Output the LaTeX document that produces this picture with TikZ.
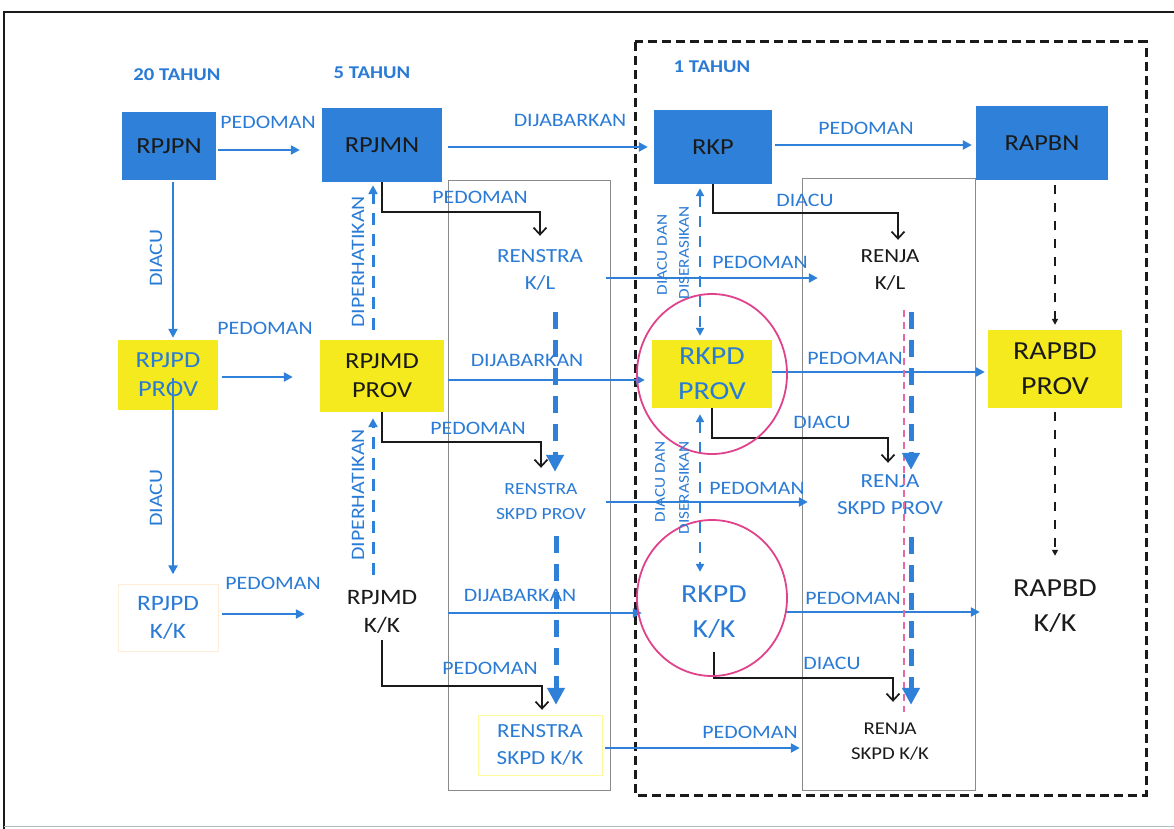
\documentclass[tikz,border=0pt]{standalone}
\usepackage{fontspec}
\setmainfont{Carlito}[FakeStretch=1.15]
\usetikzlibrary{arrows.meta,calc,positioning}
\definecolor{PlanBlue}{HTML}{2F80D8}
\definecolor{PlanText}{HTML}{2A7BD6}
\definecolor{PlanYellow}{HTML}{F4EA1E}
\definecolor{PlanInk}{HTML}{1A1A1A}
\definecolor{PlanRing}{HTML}{E0438C}
\definecolor{PlanGrid}{HTML}{8A8A8A}
\tikzset{
  every node/.style={font=\fontsize{19}{22}\selectfont, text=PlanInk, align=center, inner sep=0pt},
  bluebox/.style={fill=PlanBlue, font=\fontsize{23}{29}\selectfont},
  yellowbox/.style={fill=PlanYellow, font=\fontsize{23}{29}\selectfont},
  bigtext/.style={font=\fontsize{26}{35}\selectfont},
  midtext/.style={font=\fontsize{22}{28}\selectfont},
  plantext/.style={font=\fontsize{20}{27}\selectfont},
  tag/.style={text=PlanText, font=\fontsize{19}{22}\selectfont},
  smalltag/.style={text=PlanText, font=\fontsize{15}{17}\selectfont, rotate=90},
  heading/.style={text=PlanText, font=\fontsize{18}{22}\selectfont\bfseries},
  flow/.style={-{Triangle[length=9pt,width=9pt]}, draw=PlanBlue, line width=2.6pt},
  elbow/.style={-{Straight Barb[length=7pt,width=13pt]}, draw=PlanInk, line width=1.7pt},
  linked/.style={-{Triangle[length=6pt,width=6pt]}, draw=PlanInk, line width=1.6pt, dash pattern=on 9pt off 9pt},
  noted/.style={-{Triangle[length=9pt,width=9pt]}, draw=PlanBlue, line width=3pt, dash pattern=on 12pt off 9pt},
  synced/.style={{Triangle[length=8pt,width=8pt]}-{Triangle[length=8pt,width=8pt]}, draw=PlanBlue, line width=2.4pt, dash pattern=on 11pt off 9pt},
  cascade/.style={-{Triangle[length=17pt,width=17pt]}, draw=PlanBlue, line width=5pt, dash pattern=on 17pt off 11pt},
  ring/.style={draw=PlanRing, line width=1.8pt},
  column/.style={draw=PlanGrid, line width=0.7pt},
}
\begin{document}
\begin{tikzpicture}[x=1pt,y=-1pt]
  \useasboundingbox (0,0) rectangle (1174,829);
  \fill[white] (0,0) rectangle (1174,829);
  % Frame and groupings
  \draw[PlanInk, line width=1.8pt] (4,829) -- (4,12) -- (1174,12);
  \draw[PlanGrid!60, line width=1pt] (4,826) -- (1174,826);
  \draw[column] (448,180) rectangle (610,790);
  \draw[column] (802,178) rectangle (975,790);
  \draw[PlanInk, line width=3pt, dash pattern=on 9pt off 5pt] (635,42) rectangle (1146,795);
  % Headings
  \node[heading] (yr20) at (177,75) {20 TAHUN};
  \node[heading] (yr5) at (372,73) {5 TAHUN};
  \node[heading] (yr1) at (712,67) {1 TAHUN};
  % National row
  \node[bluebox, minimum width=94pt, minimum height=68pt] (rpjpn) at (169,146) {RPJPN};
  \node[bluebox, minimum width=120pt, minimum height=74pt] (rpjmn) at (382,145) {RPJMN};
  \node[bluebox, minimum width=118pt, minimum height=74pt] (rkp) at (713,147) {RKP};
  \node[bluebox, minimum width=132pt, minimum height=74pt] (rapbn) at (1042,143) {RAPBN};
  % Province row
  \node[yellowbox, text=PlanText, minimum width=100pt, minimum height=70pt] (rpjpdprov) at (168,375) {RPJPD\\PROV};
  \node[yellowbox, minimum width=124pt, minimum height=72pt] (rpjmdprov) at (382,376) {RPJMD\\PROV};
  \node[yellowbox, bigtext, text=PlanText, minimum width=120pt, minimum height=68pt] (rkpdprov) at (712,374) {RKPD\\PROV};
  \node[yellowbox, bigtext, minimum width=134pt, minimum height=78pt] (rapbdprov) at (1055,369) {RAPBD\\PROV};
  % Regency / city row
  \node[midtext, text=PlanText, draw=orange!15, minimum width=100pt, minimum height=67pt] (rpjpdkk) at (168,618) {RPJPD\\K/K};
  \node[midtext, minimum width=124pt, minimum height=56pt] (rpjmdkk) at (382,612) {RPJMD\\K/K};
  \node[bigtext, text=PlanText, minimum width=120pt, minimum height=80pt] (rkpdkk) at (714,612) {RKPD\\K/K};
  \node[bigtext, minimum width=134pt, minimum height=100pt] (rapbdkk) at (1055,606) {RAPBD\\K/K};
  % Strategic and work plans
  \node[plantext, text=PlanText, minimum width=130pt, minimum height=60pt] (renstrakl) at (540,270) {RENSTRA\\K/L};
  \node[font=\fontsize{17}{25}\selectfont, text=PlanText, minimum width=130pt, minimum height=60pt] (renstraprov) at (541,502) {RENSTRA\\SKPD PROV};
  \node[plantext, text=PlanText, draw=yellow!40, minimum width=124pt, minimum height=60pt] (renstrakk) at (540,745) {RENSTRA\\SKPD K/K};
  \node[plantext, minimum width=140pt, minimum height=60pt] (renjakl) at (890,270) {RENJA\\K/L};
  \node[plantext, text=PlanText, minimum width=160pt, minimum height=60pt] (renjaprov) at (890,495) {RENJA\\SKPD PROV};
  \node[font=\fontsize{18}{25}\selectfont, minimum width=180pt, minimum height=60pt] (renjakk) at (890,742) {RENJA\\SKPD K/K};
  % Horizontal flows
  \draw[flow, shorten <=2pt, shorten >=22pt] ($(rpjpn.east)+(0,4)$) -- ($(rpjpn.east -| rpjmn.west)+(0,4)$);
  \draw[flow, shorten <=6pt, shorten >=6pt] ($(rpjmn.east)+(0,2)$) -- ($(rpjmn.east -| rkp.west)+(0,2)$);
  \draw[flow, shorten <=3pt, shorten >=4pt] ($(rkp.east)+(0,-2)$) -- ($(rkp.east -| rapbn.west)+(0,-2)$);
  \draw[flow, shorten <=4pt, shorten >=27pt] ($(rpjpdprov.east)+(0,2)$) -- ($(rpjpdprov.east -| rpjmdprov.west)+(0,2)$);
  \draw[flow, shorten <=4pt, shorten >=15pt] ($(rpjpdkk.east)+(0,-4)$) -- ($(rpjpdkk.east -| rpjmdkk.west)+(0,-4)$);
  \draw[flow, shorten <=4pt, shorten >=7pt] ($(rpjmdprov.east)+(0,4)$) -- ($(rpjmdprov.east -| rkpdprov.west)+(0,4)$);
  \draw[flow, shorten <=4pt, shorten >=12pt] ($(rpjmdkk.east)+(0,1)$) -- ($(rpjmdkk.east -| rkpdkk.west)+(0,1)$);
  \draw[flow, shorten <=1pt, shorten >=2pt] ($(renstrakl.east)+(0,8)$) -- ($(renstrakl.east -| renjakl.west)+(0,8)$);
  \draw[flow, shorten >=2pt] (renstraprov.east) -- (renstraprov.east -| renjaprov.west);
  \draw[flow, shorten <=3pt] ($(renstrakk.east)+(0,3)$) -- ($(renstrakk.east -| renjakk.west)+(0,3)$);
  \draw[flow, shorten >=3pt] ($(rkpdprov.east)+(0,-2)$) -- ($(rkpdprov.east -| rapbdprov.west)+(0,-2)$);
  \draw[flow, shorten <=11pt, shorten >=8pt] (rkpdkk.east) -- (rkpdkk.east -| rapbdkk.west);
  % Vertical flows on the left
  \draw[flow, shorten <=2pt, shorten >=2pt] ($(rpjpn.south)+(4,0)$) -- ($(rpjpn.south |- rpjpdprov.north)+(4,0)$);
  \draw[flow, shorten >=10pt] ($(rpjpdprov.center)+(5,3)$) -- ($(rpjpdkk.north)+(5,0)$);
  % Elbow arrows
  \draw[elbow, shorten >=4pt] (rpjmn.south) -- ++(0,30) -| (renstrakl.north);
  \draw[elbow, shorten >=4pt] (rpjmdprov.south) -- ++(0,30) -| (renstraprov.north);
  \draw[elbow, shorten >=5pt] (rpjmdkk.south) -- ++(0,46) -| ([xshift=2pt]renstrakk.north);
  \draw[elbow, shorten >=0pt] (rkp.south) -- ++(0,29) -| ([xshift=8pt]renjakl.north);
  \draw[elbow, shorten >=2pt] (rkpdprov.south) -- ++(0,30) -| ([xshift=-2pt]renjaprov.north);
  \draw[elbow, shorten >=10pt] (rkpdkk.south) -- ++(0,26) -| ([xshift=3pt]renjakk.north);
  % Budget links
  \draw[linked, shorten <=5pt, shorten >=5pt] (rapbdprov.north |- rapbn.south) -- (rapbdprov.north);
  \draw[linked, shorten <=4pt] (rapbdprov.south) -- (rapbdkk.north);
  % Upward notes
  \draw[noted, shorten <=10pt, shorten >=3pt] ([xshift=-9pt]rpjmdprov.north) -- ([xshift=-9pt]rpjmn.south);
  \draw[noted, shorten <=9pt, shorten >=6pt] ([xshift=-9pt]rpjmdkk.north) -- ([xshift=-9pt]rpjmdprov.south);
  \draw[synced, shorten <=4pt, shorten >=4pt] ([xshift=-13pt]rkp.south) -- ([xshift=-12pt]rkpdprov.north);
  \draw[synced, shorten <=6pt, shorten >=0pt] ([xshift=-12pt]rkpdprov.south) -- ([xshift=-14pt]rkpdkk.north);
  % Cascades
  \draw[PlanRing!80, line width=2pt, dash pattern=on 7pt off 5pt] ([xshift=14pt]renjakl.south) ++(0,10) -- ([xshift=14pt]renjakk.north);
  \draw[cascade, shorten <=12pt, shorten >=0pt] ([xshift=15pt]renstrakl.south) -- ([xshift=14pt]renstraprov.north);
  \draw[cascade, shorten <=4pt, shorten >=10pt] ([xshift=15pt]renstraprov.south) -- ([xshift=16pt]renstrakk.north);
  \draw[cascade, shorten <=12pt, shorten >=-5pt] ([xshift=21pt]renjakl.south) -- ([xshift=21pt]renjaprov.north);
  \draw[cascade, shorten <=12pt, shorten >=7pt] ([xshift=21pt]renjaprov.south) -- ([xshift=21pt]renjakk.north);
  % Highlight rings
  \draw[ring] (rkpdprov.center) ellipse [x radius=75pt, y radius=80pt];
  \draw[ring] ($(rkpdkk.center)+(-2,-14)$) ellipse [x radius=75pt, y radius=78pt];
  % Labels
  \node[tag] (lblpedoman1) at (268,122) {PEDOMAN};
  \node[tag] (lbljabar1) at (570,120) {DIJABARKAN};
  \node[tag] (lblpedoman2) at (866,128) {PEDOMAN};
  \node[tag, rotate=90] (lbldiacu1) at (156,258) {DIACU};
  \node[tag, rotate=90] (lbldiacu2) at (156,498) {DIACU};
  \node[tag] (lblpedoman3) at (265,328) {PEDOMAN};
  \node[tag] (lblpedoman4) at (273,583) {PEDOMAN};
  \node[tag] (lbljabar2) at (527,360) {DIJABARKAN};
  \node[tag] (lbljabar3) at (520,595) {DIJABARKAN};
  \node[tag] (lblpedoman5) at (480,197) {PEDOMAN};
  \node[tag] (lblpedoman6) at (478,428) {PEDOMAN};
  \node[tag] (lblpedoman7) at (490,668) {PEDOMAN};
  \node[tag] (lbldiacu3) at (805,200) {DIACU};
  \node[tag] (lbldiacu4) at (822,422) {DIACU};
  \node[tag] (lbldiacu5) at (832,663) {DIACU};
  \node[tag] (lblpedoman8) at (760,262) {PEDOMAN};
  \node[tag] (lblpedoman9) at (757,488) {PEDOMAN};
  \node[tag] (lblpedoman10) at (750,732) {PEDOMAN};
  \node[tag] (lblpedoman11) at (855,358) {PEDOMAN};
  \node[tag] (lblpedoman12) at (853,598) {PEDOMAN};
  \node[tag, rotate=90, font=\fontsize{19}{21}\selectfont] (lbldiper1) at (358,262) {DIPERHATIKAN};
  \node[tag, rotate=90, font=\fontsize{19}{21}\selectfont] (lbldiper2) at (358,495) {DIPERHATIKAN};
  \node[smalltag] (lblacu1) at (662,255) {DIACU DAN};
  \node[smalltag] (lblseras1) at (684,253) {DISERASIKAN};
  \node[smalltag] (lblacu2) at (660,482) {DIACU DAN};
  \node[smalltag] (lblseras2) at (684,488) {DISERASIKAN};
\end{tikzpicture}
\end{document}
